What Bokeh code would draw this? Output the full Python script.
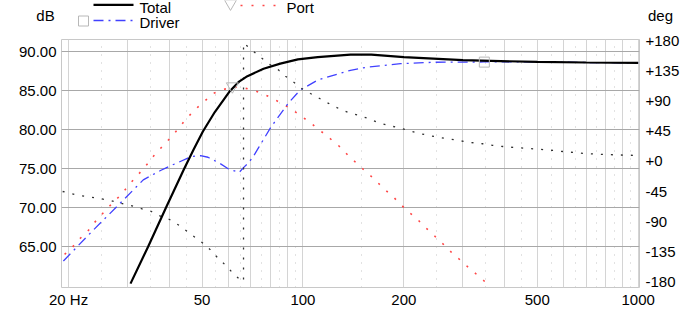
import math
from bokeh.plotting import figure
from bokeh.layouts import column
from bokeh.models import (Range1d, LinearAxis, FixedTicker, PrintfTickFormatter, Label)
from bokeh.core.properties import value
from bokeh.embed import file_html
from bokeh.resources import INLINE

# ---------------- data ----------------
total_f = [30.6, 34.5, 39.0, 44.2, 47.2, 50.3, 54.6, 60.6, 64.5, 68.3, 76.3, 85.6,
           96.6, 110.7, 138.6, 160.0, 200.0, 300.0, 500.0, 700.0, 1000.0]
total_db = [60.3, 65.0, 70.0, 75.0, 77.5, 79.8, 82.3, 85.0, 86.2, 86.9, 87.85, 88.5,
            89.05, 89.35, 89.65, 89.65, 89.35, 88.95, 88.72, 88.65, 88.6]

driver_f = [19.3, 23.0, 28.2, 33.4, 37.6, 40.2, 42.3, 46.5, 49.5, 52.1, 56.1, 60.0,
            64.5, 66.6, 68.5, 70.9, 73.9, 80.1, 90.3, 98.0, 110.7, 138.6, 155.8,
            195.5, 245.5, 345.9, 522.6, 700.0, 1000.0]
driver_db = [63.2, 66.6, 70.4, 73.6, 74.8, 75.4, 75.8, 76.6, 76.7, 76.5, 75.8, 75.0,
             74.55, 75.2, 75.7, 76.5, 77.8, 80.3, 83.4, 85.1, 86.4, 87.65, 88.07,
             88.5, 88.68, 88.72, 88.72, 88.65, 88.6]

port_f = [19.46, 20.56, 21.57, 22.78, 23.74, 24.92, 26.15, 27.62, 28.97, 30.18, 31.68,
          33.24, 34.87, 36.35, 38.13, 41.1, 44.04, 46.2, 48.5, 51.9, 54.1, 57.9, 62.9,
          66.5, 71.2, 76.3, 81.7, 86.9, 91.8, 97.0, 103.2, 115.1, 129.3, 136.6, 150.4,
          158.9, 166.7, 176.2, 186.1, 195.3, 206.3, 218.0, 228.7, 241.6, 253.5, 267.8,
          280.9, 298.9, 313.6, 331.3, 350.0]
port_db = [64.05, 65.0, 66.03, 66.97, 68.0, 69.0, 70.0, 71.0, 71.9, 72.9, 73.9,
           74.9, 75.96, 77.0, 77.9, 79.4, 81.0, 82.0, 82.9, 84.0, 84.7, 85.2, 85.5,
           85.4, 85.1, 84.6, 84.0, 83.3, 82.8, 82.0, 81.2, 79.6, 77.8, 76.7, 75.06,
           74.16, 73.3, 72.3, 71.4, 70.5, 69.5, 68.7, 67.7, 66.84, 65.9, 65.0,
           64.05, 63.1, 62.25, 61.4, 60.5]

phase_f = [19.2, 21.4, 23.3, 24.7, 26.7, 28.5, 30.6, 32.8, 35.3, 37.2, 40.0, 42.8,
           45.2, 47.6, 50.8, 53.2, 55.8, 58.9, 61.8, 65.3, 66.5, 66.5, 70.7, 74.7,
           79.1, 83.8, 88.7, 93.9, 99.5, 105.3, 113.1, 121.5, 129.9, 136.8, 145.0,
           155.8, 166.8, 179.3, 192.5, 206.2, 221.6, 237.9, 255.3, 273.9, 293.9,
           315.5, 342.9, 368.1, 395.0, 424.0, 460.7, 532.3, 597.0, 688.9, 790.6,
           919.4, 1000.0]
phase_deg = [-44.8, -50.7, -53.2, -55.2, -58.2, -62.2, -65.7, -70.1, -74.6, -80.6,
             -86.6, -95.5, -104.5, -113.0, -123.4, -132.8, -144.3, -155.2, -166.7,
             -177.6, -179.0, 176.9, 165.7, 155.7, 145.8, 138.4, 127.3, 118.4, 108.5,
             101.5, 93.0, 84.5, 77.5, 73.0, 69.5, 64.5, 58.5, 54.0, 50.5, 46.3, 42.0,
             38.8, 35.8, 33.5, 31.0, 28.5, 26.5, 24.0, 22.4, 21.0, 19.8, 17.5, 14.9,
             12.0, 10.4, 9.5, 9.0]

port_mark_f = [61.6]
port_mark_db = [85.6]
driver_mark_f = [347.6]
driver_mark_db = [88.7]

x_ticks = [20, 50, 100, 200, 500, 1000]
x_labels = ["20 Hz", "50", "100", "200", "500", "1000"]
grid_major_f = [20, 30, 40, 50, 60, 70, 80, 90, 100, 200, 300, 400, 500, 600, 700,
                800, 900, 1000]
grid_minor_f = [25, 35, 45, 55, 65, 75, 85, 95, 150, 250, 350, 450, 550, 650, 750,
                850, 950]
db_ticks = [65, 70, 75, 80, 85, 90]
phase_ticks = [-180, -135, -90, -45, 0, 45, 90, 135, 180]
phase_labels = ["-180", "-135", "-90", "-45", "+0", "+45", "+90", "+135", "+180"]

legend_names = ["Total", "Driver", "Port"]
axis_titles = ["dB", "deg"]

# ---------------- layout ----------------
W, H = 700, 316
HEAD = 32                       # height of the header strip (legend, unit titles)
FL, FR, FT, FB = 61, 639, 39, 287
X0, X1 = 19.05, 1009.0
Y0, Y1 = 59.8, 91.6
P0, P1 = -188.1, 182.1
FONT = "Liberation Sans"
FS = "15px"
RED = "#ff4646"
BLUE = "#4040ff"
MARK = "#b8b8b8"
BASE_FIX = 4.5                  # text baseline correction (px)

def dx(px):
    return 10 ** (math.log10(X0) + (px - FL) / (FR - FL) * (math.log10(X1) - math.log10(X0)))

xr = Range1d(X0, X1)

# ---------------- header strip (x like the chart, y in pixels downwards) ----------------
hd = figure(width=W, height=HEAD, x_axis_type="log", x_range=xr,
            y_range=Range1d(HEAD, 0),
            output_backend="svg", toolbar_location=None,
            x_axis_location=None, y_axis_location=None,
            min_border_left=FL, min_border_right=W - FR, min_border_top=0,
            min_border_bottom=0, outline_line_color=None,
            background_fill_color="white", border_fill_color="white")
hd.xgrid.visible = False
hd.ygrid.visible = False

def htext(px, py, s):
    hd.text(x=[dx(px)], y=[py - BASE_FIX], text=[s], text_align="left",
            text_baseline="alphabetic", text_font=value(FONT),
            text_font_size=FS, text_color="black")

htext(139, 11, legend_names[0])
htext(139, 26.5, legend_names[1])
htext(286, 11, legend_names[2])

for px, py, side, s in [(45, 19, "left", axis_titles[0]), (660, 19, "right", axis_titles[1])]:
    hd.add_layout(Label(x=dx(px), y=py - BASE_FIX, text=s, text_align="center",
                        text_baseline="alphabetic", text_font=FONT,
                        text_font_size=FS, text_color="black"), side)

hd.line([dx(93), dx(133)], [4.3, 4.3], line_color="black", line_width=2.2)
hd.line([dx(93), dx(133)], [20, 20], line_color=BLUE, line_width=1.3,
        line_dash="10 5 2 5")
hd.line([dx(240), dx(278)], [5, 5], line_color=RED, line_width=1.6, line_dash="2 9")
hd.scatter([dx(83)], [20.5], marker="square", size=10, fill_color=None,
           line_color=MARK)
hd.scatter([dx(230)], [3], marker="inverted_triangle", size=12, fill_color=None,
           line_color=MARK)

# ---------------- main chart ----------------
p = figure(width=W, height=H - HEAD, x_axis_type="log",
           x_range=xr, y_range=Range1d(Y0, Y1),
           output_backend="svg", toolbar_location=None,
           min_border_left=FL, min_border_right=W - FR,
           min_border_top=FT - HEAD, min_border_bottom=H - FB,
           background_fill_color="white", border_fill_color="white",
           outline_line_color="#c8c8c8")
p.extra_y_ranges = {"phase": Range1d(P0, P1)}

def style_axis(ax, standoff):
    ax.axis_line_color = None
    ax.major_tick_line_color = None
    ax.minor_tick_line_color = None
    ax.major_tick_out = 0
    ax.major_tick_in = 0
    ax.minor_tick_out = 0
    ax.major_label_standoff = standoff
    ax.major_label_text_font = FONT
    ax.major_label_text_font_size = FS
    ax.major_label_text_color = "black"

xa = p.xaxis[0]
xa.ticker = FixedTicker(ticks=x_ticks)
xa.major_label_overrides = {t: s for t, s in zip(x_ticks, x_labels)}
style_axis(xa, 3)

ya = p.yaxis[0]
ya.ticker = FixedTicker(ticks=db_ticks)
ya.formatter = PrintfTickFormatter(format="%.2f")
style_axis(ya, 5)

ra = LinearAxis(y_range_name="phase", ticker=FixedTicker(ticks=phase_ticks))
ra.major_label_overrides = {t: s for t, s in zip(phase_ticks, phase_labels)}
style_axis(ra, 6)
p.add_layout(ra, "right")

p.xgrid.ticker = FixedTicker(ticks=grid_major_f, minor_ticks=grid_minor_f)
p.xgrid.grid_line_color = "#d4d4d4"
p.xgrid.minor_grid_line_color = "#c4c4c4"
p.xgrid.minor_grid_line_dash = "1 7"
p.ygrid.ticker = FixedTicker(ticks=db_ticks)
p.ygrid.grid_line_color = "#a8a8a8"

p.line(port_f, port_db, line_color=RED, line_width=1.6, line_dash="2 9")
p.line(driver_f, driver_db, line_color=BLUE, line_width=1.3, line_dash="10 5 2 5")
p.line(phase_f, phase_deg, y_range_name="phase", line_color="#303030",
       line_width=1.3, line_dash="2 8")
p.line(total_f, total_db, line_color="black", line_width=2.2)
p.scatter(port_mark_f, port_mark_db, marker="inverted_triangle", size=12,
          fill_color=None, line_color=MARK)
p.scatter(driver_mark_f, driver_mark_db, marker="square", size=10,
          fill_color=None, line_color=MARK)

layout = column(hd, p, spacing=0)
open("out.html", "w").write(file_html(layout, INLINE))
